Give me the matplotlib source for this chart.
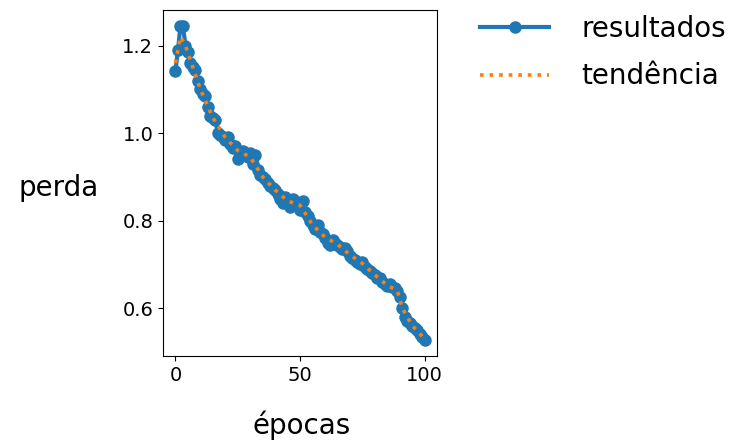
import matplotlib
matplotlib.use("Agg")
import matplotlib.pyplot as plt

epochs = list(range(0, 101))
loss = [1.143, 1.190, 1.245, 1.245, 1.200, 1.185, 1.160, 1.150, 1.145, 1.120,
        1.100, 1.090, 1.085, 1.060, 1.040, 1.035, 1.030, 1.000, 0.995, 0.990,
        0.985, 0.990, 0.975, 0.965, 0.970, 0.940, 0.955, 0.960, 0.950, 0.945,
        0.955, 0.930, 0.950, 0.915, 0.905, 0.900, 0.895, 0.885, 0.880, 0.875,
        0.870, 0.860, 0.850, 0.840, 0.855, 0.845, 0.830, 0.850, 0.845, 0.835,
        0.825, 0.845, 0.820, 0.810, 0.800, 0.790, 0.780, 0.790, 0.775, 0.770,
        0.760, 0.750, 0.745, 0.755, 0.750, 0.745, 0.740, 0.735, 0.738, 0.730,
        0.720, 0.715, 0.710, 0.705, 0.700, 0.705, 0.695, 0.690, 0.685, 0.680,
        0.675, 0.670, 0.668, 0.660, 0.655, 0.650, 0.655, 0.648, 0.645, 0.640,
        0.625, 0.600, 0.580, 0.570, 0.565, 0.560, 0.555, 0.550, 0.540, 0.535,
        0.527]

trend_epochs = [0, 2, 4, 10, 15, 20, 25, 30, 35, 40, 45, 50, 55, 60, 65,
                70, 75, 80, 85, 89, 91, 95, 100]
trend = [1.160, 1.220, 1.200, 1.100, 1.035, 0.990, 0.960, 0.945, 0.900, 0.870,
         0.845, 0.835, 0.790, 0.762, 0.746, 0.722, 0.702, 0.676, 0.652, 0.640,
         0.600, 0.560, 0.530]

x_ticks = [0, 50, 100]
y_ticks = [0.6, 0.8, 1.0, 1.2]
x_label = "épocas"
y_label = "perda"
series_labels = ["resultados", "tendência"]

label_font = ["DejaVu Sans"]

fig = plt.figure(figsize=(7.41, 4.42), dpi=100)
ax = fig.add_axes([0.22, 0.195, 0.37, 0.782])

l1, = ax.plot(epochs, loss, color="#1f77b4", linewidth=3, marker="o",
              markersize=8, label=series_labels[0], zorder=2)
l2, = ax.plot(trend_epochs, trend, color="#ff7f0e", linewidth=2.6,
              linestyle=":", label=series_labels[1], zorder=3)

ax.set_xticks(x_ticks)
ax.set_yticks(y_ticks)
ax.tick_params(labelsize=14)
ax.set_xlabel(x_label, fontsize=20, family=label_font, ha="center", va="center")
ax.xaxis.set_label_coords(0.507, -0.2)
ax.set_ylabel(y_label, fontsize=20, family=label_font, rotation=0,
              ha="center", va="center")
ax.yaxis.set_label_coords(-0.38, 0.486)

leg = fig.legend(handles=[l1, l2], loc="upper left",
                 bbox_to_anchor=(0.614, 1.023), frameon=False,
                 prop={"family": label_font, "size": 20},
                 handlelength=2.5, labelspacing=0.7, handletextpad=1.15)

fig.savefig("out.png", dpi=100)
